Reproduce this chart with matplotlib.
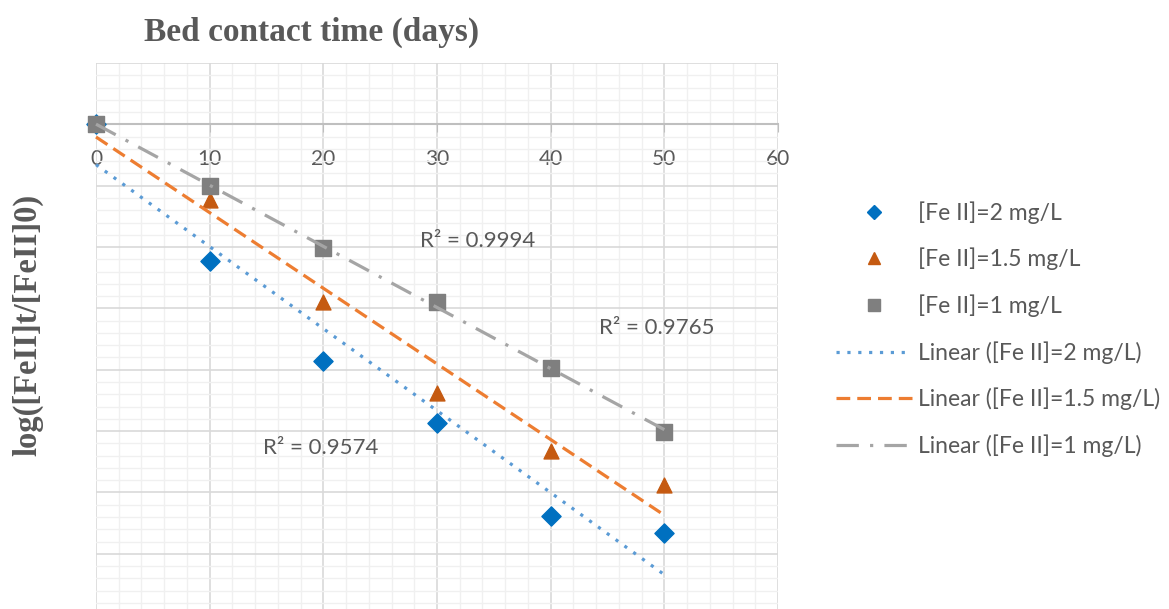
import numpy as np
import matplotlib.pyplot as plt
from matplotlib.ticker import MultipleLocator
from matplotlib.lines import Line2D

# Datos
days = [0, 10, 20, 30, 40, 50]
fe_2 = [0, -0.222, -0.386, -0.487, -0.638, -0.666]
fe_15 = [0, -0.124, -0.290, -0.438, -0.533, -0.588]
fe_1 = [0, -0.101, -0.202, -0.290, -0.397, -0.502]
labels = ["[Fe II]=2 mg/L", "[Fe II]=1.5 mg/L", "[Fe II]=1 mg/L"]
r2_texts = ["R² = 0.9574", "R² = 0.9994", "R² = 0.9765"]

txt_color = "#595959"

fig = plt.figure(figsize=(11.69, 6.09), dpi=100)
ax = fig.add_axes([96 / 1169, 0, 682 / 1169, 546 / 609])

ax.set_xlim(0, 60)
ax.set_ylim(-0.79, 0.1)
ax.xaxis.set_major_locator(MultipleLocator(10))
ax.xaxis.set_minor_locator(MultipleLocator(2))
ax.yaxis.set_major_locator(MultipleLocator(0.1))
ax.yaxis.set_minor_locator(MultipleLocator(0.02))
ax.grid(which="major", color="#d9d9d9", lw=1.2)
ax.grid(which="minor", color="#f0f0f0", lw=1.0)
ax.set_axisbelow(True)

for s in ["top", "right", "left"]:
    ax.spines[s].set_visible(False)
ax.spines["bottom"].set_position(("data", 0))
ax.spines["bottom"].set_color("#bfbfbf")
ax.spines["bottom"].set_linewidth(1.5)
ax.tick_params(axis="x", which="major", direction="out", length=6, color="#bfbfbf",
               pad=12, labelsize=15, labelcolor=txt_color)
ax.tick_params(axis="x", which="minor", length=0)
ax.tick_params(axis="y", which="both", length=0, labelleft=False)
for t in ax.get_xticklabels():
    t.set_fontfamily("Lato")

x = np.array(days)
# Puntos
ax.scatter(days, fe_2, marker="D", s=95, color="#0070C0", zorder=3, clip_on=False)
ax.scatter(days, fe_15, marker="^", s=115, color="#C55A11", zorder=3, clip_on=False)
ax.scatter(days, fe_1, marker="s", s=125, color="#7F7F7F", zorder=3, clip_on=False)

# Lineas de tendencia
estilos = [((0, (1, 2.4)), "#5B9BD5"), ((0, (4.3, 2.2)), "#ED7D31"), ((0, (7, 3.5, 1, 3.5)), "#A5A5A5")]
for serie, (ls, col) in zip([fe_2, fe_15, fe_1], estilos):
    m, b = np.polyfit(x, serie, 1)
    ax.plot([0, 50], [b, m * 50 + b], ls=ls, color=col, lw=2.3, zorder=4, clip_on=False)

# Etiquetas R2
ax.text(19.8, -0.528, r2_texts[0], ha="center", va="center", fontsize=16, color=txt_color, family="Lato")
ax.text(33.6, -0.19, r2_texts[1], ha="center", va="center", fontsize=16, color=txt_color, family="Lato")
ax.text(49.3, -0.332, r2_texts[2], ha="center", va="center", fontsize=16, color=txt_color, family="Lato")

# Titulos
fig.text(312 / 1169, 1 - 32 / 609, "Bed contact time (days)", ha="center", va="center",
         fontsize=24, fontweight="bold", family="Liberation Serif", color=txt_color)
fig.text(28 / 1169, 1 - 325 / 609, "log([FeII]t/[FeII]0)", ha="center", va="center", rotation=90,
         fontsize=23.5, fontweight="bold", family="Liberation Serif", color=txt_color)

# Leyenda
handles = [
    Line2D([], [], ls="none", marker="D", color="#0070C0", ms=7),
    Line2D([], [], ls="none", marker="^", color="#C55A11", ms=8),
    Line2D([], [], ls="none", marker="s", color="#7F7F7F", ms=9),
    Line2D([], [], ls=estilos[0][0], color=estilos[0][1], lw=2.3),
    Line2D([], [], ls=estilos[1][0], color=estilos[1][1], lw=2.3),
    Line2D([], [], ls=estilos[2][0], color=estilos[2][1], lw=2.3),
]
leg_labels = labels + ["Linear (" + l + ")" for l in labels]
leg = fig.legend(handles, leg_labels, loc="upper left", bbox_to_anchor=(836 / 1169, 1 - 201 / 609),
                 frameon=False, handlelength=3.3, handletextpad=0.3,
                 labelspacing=1.05, borderpad=0, borderaxespad=0,
                 prop={"family": "Lato", "size": 16.5})
for t in leg.get_texts():
    t.set_color(txt_color)

fig.savefig("out.png", dpi=100)
